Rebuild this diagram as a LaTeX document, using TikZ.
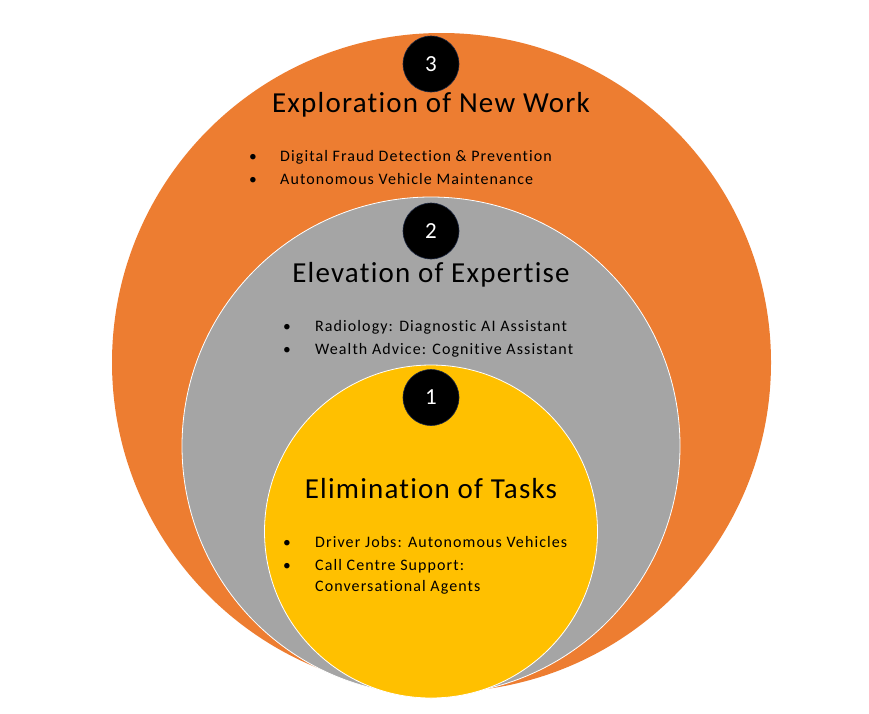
\documentclass[tikz,border=0pt]{standalone}
\usepackage{fontspec}
\setmainfont{Carlito}
\newfontfamily\ttlfont[LetterSpace=4.2,Ligatures=NoCommon]{Carlito}
\newfontfamily\itmfont[LetterSpace=6.8,Ligatures=NoCommon]{Carlito}
\definecolor{orangeC}{HTML}{ED7D31}
\definecolor{grayC}{HTML}{A5A5A5}
\definecolor{yellowC}{HTML}{FFC000}
\definecolor{navyC}{HTML}{1F2A44}
\begin{document}
\begin{tikzpicture}[x=1pt,y=-1pt,
  ring/.style={circle,inner sep=0pt,draw=white,line width=0.8pt},
  numdot/.style={circle,fill=black,draw=navyC,line width=0.6pt,minimum size=56pt,inner sep=0pt,text=white,font=\fontsize{23}{23}\selectfont},
  ttl/.style={anchor=base,inner sep=0pt,font=\ttlfont\fontsize{29}{29}\selectfont},
  itm/.style={anchor=base west,inner sep=0pt,font=\itmfont\fontsize{16}{16}\selectfont},
  dot/.style={anchor=base,inner sep=0pt,font=\fontsize{15.5}{15.5}\selectfont}]
\useasboundingbox (0,0) rectangle (869,713);
\node[ring,fill=orangeC,draw=none,minimum size=659pt] (outer) at (441.5,362.5) {};
\node[ring,fill=grayC,minimum size=498pt] (middle) at (431,446) {};
\node[ring,fill=yellowC,minimum size=333pt] (inner) at (431,531.5) {};
\node[numdot] (n3) at (431,64) {3};
\node[numdot] (n2) at (431,231) {2};
\node[numdot] (n1) at (431,397.5) {1};
% outer
\node[ttl] (t3) at (431,112.7) {Exploration of New Work};
\node[dot] (b31) at (253,161.7) {\textbullet};
\node[itm] (i31) at (280,161.7) {Digital Fraud Detection \& Prevention};
\node[dot] (b32) at (253,184.3) {\textbullet};
\node[itm] (i32) at (280,184.3) {Autonomous Vehicle Maintenance};
% middle
\node[ttl] (t2) at (431,282.7) {Elevation of Expertise};
\node[dot] (b21) at (287,331.7) {\textbullet};
\node[itm] (i21) at (315,331.7) {Radiology: Diagnostic AI Assistant};
\node[dot] (b22) at (287,354) {\textbullet};
\node[itm] (i22) at (315,354) {Wealth Advice: Cognitive Assistant};
% inner
\node[ttl] (t1) at (431,498) {Elimination of Tasks};
\node[dot] (b11) at (287,547.3) {\textbullet};
\node[itm] (i11) at (315,547.3) {Driver Jobs: Autonomous Vehicles};
\node[dot] (b12) at (287,570) {\textbullet};
\node[itm] (i12) at (315,570) {Call Centre Support:};
\node[itm] (i13) at (315,591.5) {Conversational Agents};
\end{tikzpicture}
\end{document}
